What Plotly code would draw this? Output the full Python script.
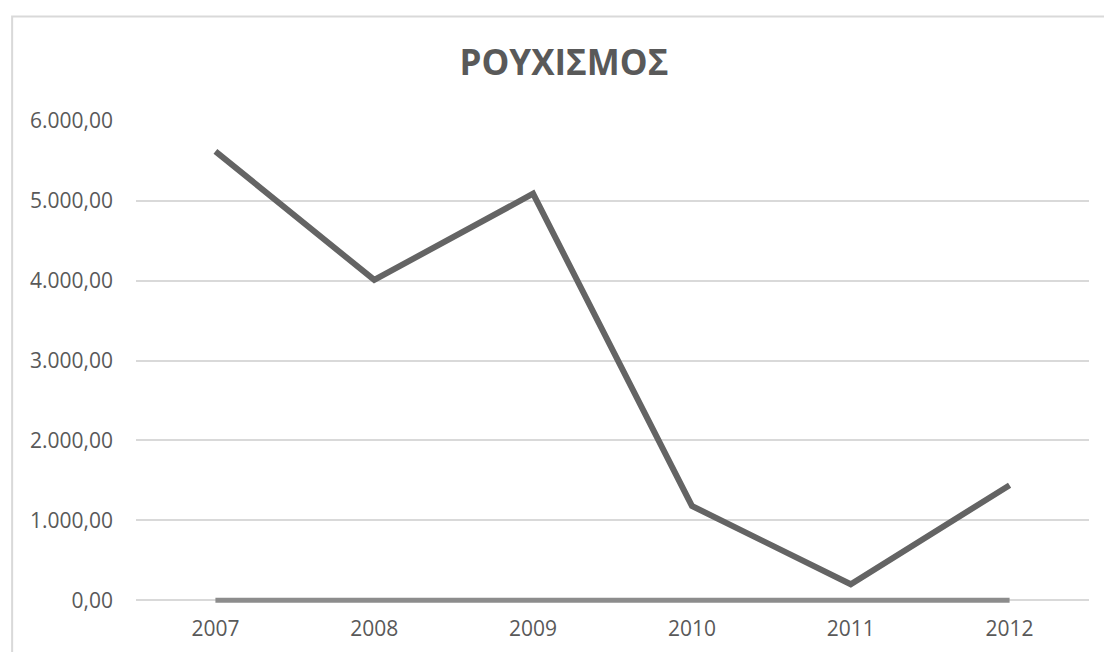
import plotly.graph_objects as go

years = ["2007", "2008", "2009", "2010", "2011", "2012"]
main_values = [5620, 4010, 5090, 1180, 200, 1440]
zero_values = [0, 0, 0, 0, 0, 0]
y_ticks = [0, 1000, 2000, 3000, 4000, 5000, 6000]
y_tick_labels = ["0,00", "1.000,00", "2.000,00", "3.000,00", "4.000,00", "5.000,00", "6.000,00"]
title_text = "ΡΟΥΧΙΣΜΟΣ"

fig = go.Figure()
fig.add_trace(go.Scatter(x=years, y=zero_values, mode="lines",
                         line=dict(color="#8c8c8c", width=5), showlegend=False))
fig.add_trace(go.Scatter(x=years, y=main_values, mode="lines",
                         line=dict(color="#646464", width=6), showlegend=False))

W, H = 1104, 652
Y_MIN = -60
L, R = 135.5, 1089.5
T0, B0 = 121, 600  # pixel positions of 6000 and 0
scale = (B0 - T0) / 6000.0
T = T0
B = B0 + (-Y_MIN) * scale
pw, ph = R - L, B - T

def px_to_paper_x(px):
    return (px - L) / pw

def px_to_paper_y(py):
    return (B - py) / ph

fig.update_layout(
    width=W, height=H,
    margin=dict(l=L, r=W - R, t=T, b=H - B, pad=0, autoexpand=False),
    paper_bgcolor="white", plot_bgcolor="white",
    font=dict(family="Open Sans", color="#595959", size=21),
    title=dict(text="<b>" + title_text + "</b>", x=564 / W, xanchor="center",
               y=1 - 62.5 / H, yanchor="middle",
               font=dict(size=35, color="#595959", family="Open Sans")),
    xaxis=dict(type="category", range=[-0.5, 5.5], showgrid=False,
               showline=False, zeroline=False, ticks="", automargin=False,
               ticklabelstandoff=9, tickfont=dict(size=21, color="#595959")),
    yaxis=dict(range=[Y_MIN, 6000], tickvals=y_ticks, ticktext=y_tick_labels,
               showgrid=True, gridcolor="#d9d9d9", gridwidth=2, automargin=False,
               zeroline=False, showline=False, ticks="",
               ticklabelstandoff=22, tickfont=dict(size=21, color="#595959")),
    shapes=[dict(type="rect", xref="paper", yref="paper",
                 x0=px_to_paper_x(11.5), y0=px_to_paper_y(760),
                 x1=px_to_paper_x(1200), y1=px_to_paper_y(16.5),
                 line=dict(color="#d9d9d9", width=2), fillcolor="rgba(0,0,0,0)",
                 layer="below")],
)

fig.write_html("out.html",
               config={"displayModeBar": False},
               post_script="document.body.style.margin='0';"
                           "document.body.style.overflow='hidden';")
